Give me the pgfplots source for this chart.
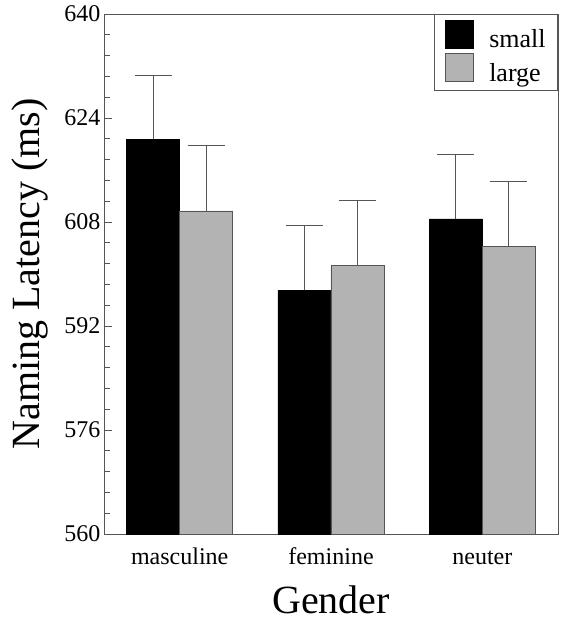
\documentclass[border=0pt]{standalone}
\usepackage{pgfplots}
\pgfplotsset{compat=1.18}
\usepackage{fontspec}
\setmainfont{Liberation Serif}
\definecolor{barGray}{HTML}{B3B3B3}
\definecolor{axGray}{HTML}{555555}
\begin{document}
\begin{tikzpicture}
\begin{axis}[
  scale only axis,
  width=454pt, height=520pt,
  xmin=-0.5, xmax=2.5,
  ymin=560, ymax=640,
  ybar=0pt, bar width=53pt,
  xtick={0,1,2},
  xticklabels={masculine,feminine,neuter},
  major x tick style={draw=none},
  ytick={560,576,...,640},
  minor y tick num=4,
  ytick pos=left,
  tick align=inside,
  major tick length=8pt, minor tick length=6pt,
  tick style={axGray, line width=0.8pt},
  axis line style={axGray, line width=0.9pt},
  /pgf/number format/assume math mode=true,
  ticklabel style={font=\fontsize{24}{24}\selectfont},
  xticklabel style={anchor=base, yshift=-30pt},
  xlabel={Gender},
  ylabel={Naming Latency (ms)},
  label style={font=\fontsize{40}{40}\selectfont},
  xlabel style={at={(axis description cs:0.5,-0.127)}, anchor=center},
  ylabel style={at={(axis description cs:-0.163,0.5)}, anchor=center},
  legend style={at={(rel axis cs:1,1)}, anchor=north east, draw=axGray, line width=0.8pt,
    font=\fontsize{26}{30}\selectfont, inner xsep=10pt, inner ysep=6pt, row sep=2pt,
    /tikz/every odd column/.append style={column sep=14pt}},
  legend image code/.code={\draw[#1, line width=0.6pt] (0pt,-9pt) rectangle (28pt,19pt);},
  legend cell align=left,
  error bars/error bar style={axGray, line width=0.9pt},
  error bars/error mark options={axGray, line width=0.9pt, mark size=18.5pt, rotate=90},
]
\addplot[fill=black, draw=black, error bars/.cd, y dir=plus, y explicit]
  coordinates {(0,620.7) +- (0,9.9) (1,597.5) +- (0,9.9) (2,608.5) +- (0,9.9)};
\addplot[fill=barGray, draw=axGray, error bars/.cd, y dir=plus, y explicit]
  coordinates {(0,609.7) +- (0,10.0) (1,601.3) +- (0,10.0) (2,604.3) +- (0,9.9)};
\legend{small, large}
\end{axis}
\path[use as bounding box] (current axis.south west) ++(-104pt,-90pt) rectangle ++(569pt,624pt);
\end{tikzpicture}
\end{document}
